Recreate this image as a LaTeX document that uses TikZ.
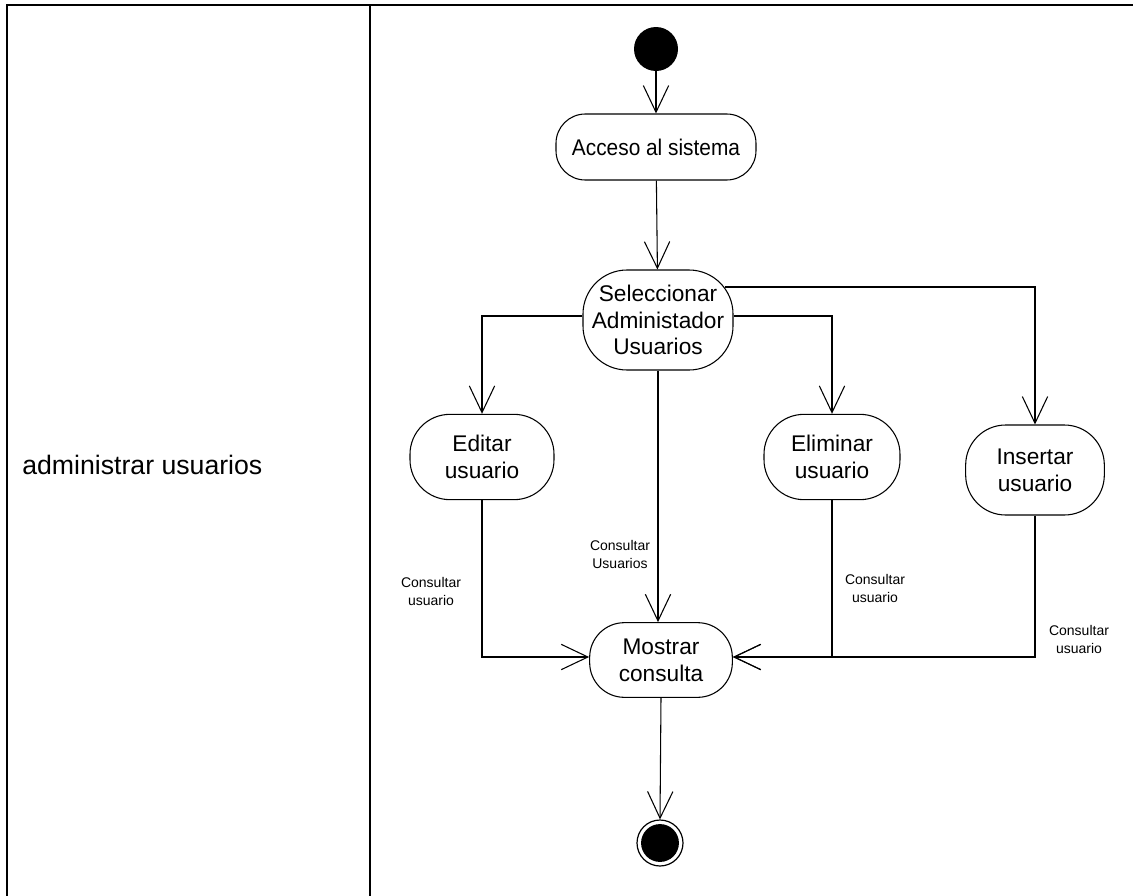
\documentclass[tikz,border=0pt]{standalone}
\usepackage{fontspec}
\setmainfont{Liberation Sans}
\newfontfamily\narrowsans[FakeStretch=0.92]{Liberation Sans}
\usetikzlibrary{arrows.meta,calc}
\begin{document}
\begin{tikzpicture}[x=0.75pt,y=-0.75pt,
  act/.style={draw,line width=0.8pt,align=center,inner sep=0pt,fill=white,
    font=\fontsize{17}{20}\selectfont},
  flow/.style={line width=0.8pt,-{Straight Barb[length=20pt,width=19pt,line width=0.8pt]}},
  lbl/.style={font=\fontsize{10.5}{13.5}\selectfont,align=center,inner sep=0pt},
  frame/.style={line width=2.2pt}]
\useasboundingbox (0,0) rectangle (1133,896);

% table frame
\draw[frame] (7,896) -- (7,5) -- (1140,5);
\draw[frame] (370,5) -- (370,896);
\node[font=\fontsize{20}{23}\selectfont,anchor=west,inner sep=0pt] (title) at (22,465) {administrar usuarios};

% initial and final states
\node[circle,fill=black,minimum size=33pt,inner sep=0pt] (start) at (656,49) {};
\node[circle,draw,line width=0.9pt,fill=white,minimum size=34.5pt,inner sep=0pt] (fin) at (660,843) {};
\fill (fin.center) circle (14.2pt);

% activities
\node[act,font=\narrowsans\fontsize{17}{20}\selectfont,minimum width=150pt,minimum height=49.5pt,rounded corners=22pt] (acc) at (656,147) {Acceso al sistema};
\node[act,minimum width=112.5pt,minimum height=75pt,rounded corners=33pt] (sel) at (658,320) {\raisebox{3pt}{\parbox{110pt}{\centering Seleccionar\\Administador\\Usuarios}}};
\node[act,minimum width=108pt,minimum height=64pt,rounded corners=30pt] (edit) at (482,457) {\raisebox{2pt}{\parbox{100pt}{\centering Editar\\usuario}}};
\node[act,minimum width=102pt,minimum height=64pt,rounded corners=30pt] (elim) at (832,457) {\raisebox{2pt}{\parbox{100pt}{\centering Eliminar\\usuario}}};
\node[act,minimum width=104pt,minimum height=67.5pt,rounded corners=30pt] (ins) at (1035,470) {Insertar\\usuario};
\node[act,minimum width=107pt,minimum height=56pt,rounded corners=26pt] (most) at (661,660) {Mostrar\\consulta};

% transitions
\draw[flow] (start) -- (acc);
\draw[flow] (acc) -- (sel);
\coordinate (selw) at ($(sel.west)+(0,-4)$);
\coordinate (sele) at ($(sel.east)+(0,-4)$);
\draw[flow] (selw) -| (edit.north);
\draw[flow] (sele) -| (elim.north);
\coordinate (selne) at ($(sel.east)+(-9,-33)$);
\draw[flow] (selne) -| (ins.north);
\draw[flow] (sel.south) -- (sel.south |- most.north);
\coordinate (mostw) at ($(most.west)+(0,-3)$);
\coordinate (moste) at ($(most.east)+(0,-3)$);
\draw[flow] (edit.south) |- (mostw);
\draw[flow] (elim.south) |- (moste);
\draw[flow] (ins.south) |- (moste);
\draw[flow] (most.south) -- (fin.north);

% guard labels
\node[lbl] (l1) at (431,591) {Consultar\\usuario};
\node[lbl] (l2) at (620,554) {Consultar\\Usuarios};
\node[lbl] (l3) at (875,588) {Consultar\\usuario};
\node[lbl] (l4) at (1079,639) {Consultar\\usuario};
\end{tikzpicture}
\end{document}
